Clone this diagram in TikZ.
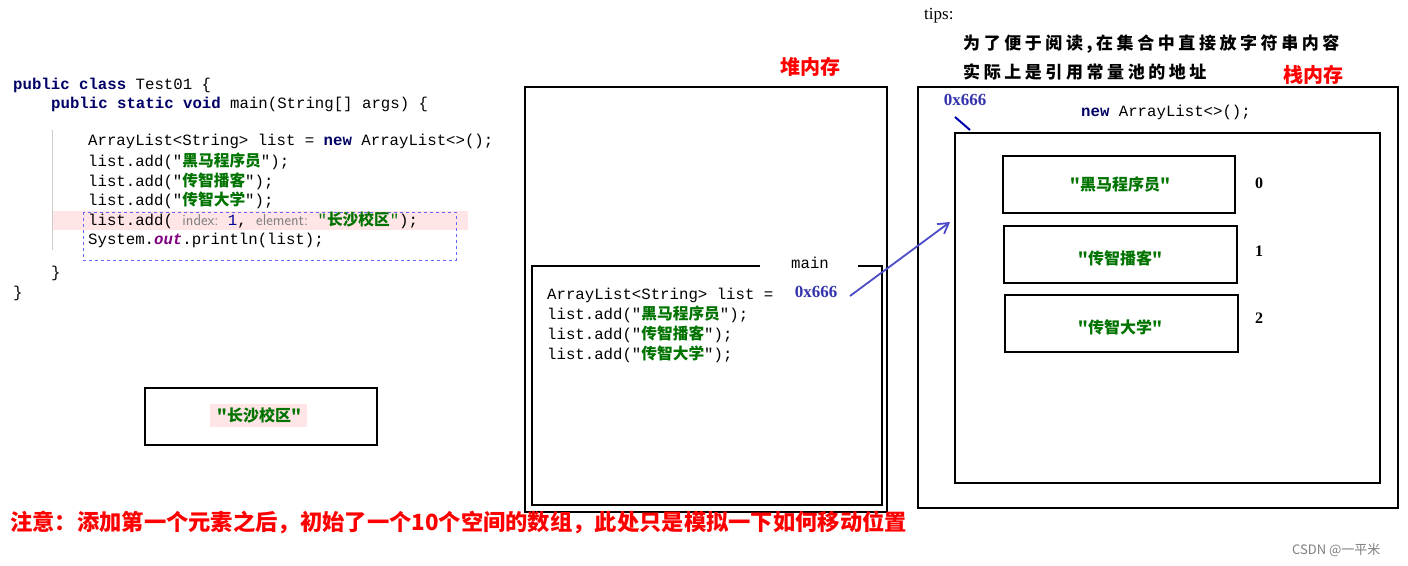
\documentclass[tikz,border=0pt]{standalone}
\usetikzlibrary{arrows.meta}
\usepackage{fontspec}
\setmainfont{Liberation Serif}
\setmonofont{Liberation Mono}
\newfontfamily\cjk{Noto Sans CJK SC}
\newfontfamily\cjksp{Noto Sans CJK SC}[LetterSpace=21]
\begin{document}
\begin{tikzpicture}[x=1pt,y=-1pt,
  every node/.style={inner sep=0pt,anchor=west},
  code/.style={font=\ttfamily\fontsize{15.7}{18}\selectfont},
  box/.style={draw=black,line width=2.2pt},
  elem/.style={anchor=center,font=\fontsize{16}{18}\selectfont},
  red lab/.style={text=red,font=\cjk\bfseries\fontsize{20}{22}\selectfont},
  addr/.style={text=blue!60!black!80!white,font=\bfseries\fontsize{17}{20}\selectfont}]
\useasboundingbox (0,0) rectangle (1408,565);
\fill[white] (0,0) rectangle (1408,565);
\newcommand{\kwd}[1]{\textcolor{blue!40!black}{\textbf{#1}}}
\newcommand{\grn}[1]{\textcolor{green!45!black}{\cjk\bfseries #1}}
% code
\fill[red!10] (52,211) rectangle (468,230);
\draw[gray!40,line width=1pt] (52,130) -- (52,250);
\draw[blue!60,dashed] (83,212) rectangle (456,260);
\node[code] (c1) at (13,85) {\kwd{public} \kwd{class} Test01 \{};
\node[code] (c2) at (51,104) {\kwd{public} \kwd{static} \kwd{void} main(String[] args) \{};
\node[code] (c3) at (88,141) {ArrayList<String> list = \kwd{new} ArrayList<>();};
\node[code] (c4) at (88,161) {list.add("\grn{黑马程序员}");};
\node[code] (c5) at (88,181) {list.add("\grn{传智播客}");};
\node[code] (c6) at (88,200) {list.add("\grn{传智大学}");};
\node[code] (c7) at (88,220) {list.add( \textcolor{gray}{\sffamily index:} \textcolor{blue!60!black}{1}, \textcolor{gray}{\sffamily element:} \textcolor{green!45!black}{"}\grn{长沙校区}\textcolor{green!45!black}{"});};
\node[code] (c8) at (88,240) {System.\textcolor{violet}{\textit{\textbf{out}}}.println(list);};
\node[code] (c9) at (51,273) {\}};
\node[code] (c10) at (13,293) {\}};
% box 长沙校区
\draw[box] (145,388) rectangle (377,445);
\fill[red!10] (210,404) rectangle (307,427);
\node[elem] (cs) at (259,415) {\grn{"长沙校区"}};
% heap
\node[red lab,anchor=center] (heap) at (810,67) {堆内存};
\draw[box] (525,87) rectangle (887,512);
\draw[box] (532,266) rectangle (882,505);
\fill[white] (760,255) rectangle (858,275);
\node[code,anchor=center] (mainl) at (810,263) {main};
\node[code] (h1) at (547,295) {ArrayList<String> list =};
\node[code] (h2) at (547,314) {list.add("\grn{黑马程序员}");};
\node[code] (h3) at (547,334) {list.add("\grn{传智播客}");};
\node[code] (h4) at (547,354) {list.add("\grn{传智大学}");};
\node[addr,anchor=center] (a1) at (816,292) {0x666};
% stack
\node[font=\fontsize{17}{20}\selectfont] (tips) at (924,16) {tips:};
\node[font=\cjksp\bfseries\fontsize{17}{20}\selectfont] (t1) at (963,44) {为了便于阅读,在集合中直接放字符串内容};
\node[font=\cjksp\bfseries\fontsize{17}{20}\selectfont] (t2) at (963,72) {实际上是引用常量池的地址};
\node[red lab,anchor=center] (stack) at (1313,75) {栈内存};
\draw[box] (918,87) rectangle (1398,508);
\node[addr,anchor=center] (a2) at (965,100) {0x666};
\node[code,anchor=center] (na) at (1166,112) {\kwd{new} ArrayList<>();};
\draw[box] (955,133) rectangle (1380,483);
\coordinate (p1) at (955,117); \coordinate (p2) at (970,130);
\draw[blue!70!black,line width=2pt] (p1) -- (p2);
\draw[box] (1003,156) rectangle (1235,213);
\draw[box] (1004,226) rectangle (1237,283);
\draw[box] (1005,295) rectangle (1238,352);
\node[elem] (e0) at (1120,184) {\grn{"黑马程序员"}};
\node[elem] (e1) at (1120,258) {\grn{"传智播客"}};
\node[elem] (e2) at (1120,327) {\grn{"传智大学"}};
\node[anchor=center,font=\bfseries\fontsize{16}{18}\selectfont] (i0) at (1259,183) {0};
\node[anchor=center,font=\bfseries\fontsize{16}{18}\selectfont] (i1) at (1259,251) {1};
\node[anchor=center,font=\bfseries\fontsize{16}{18}\selectfont] (i2) at (1259,318) {2};
\coordinate (q) at (950,222);
\coordinate (s) at (850,296);
\draw[blue!70!black!70!white,line width=1.8pt,-{Straight Barb[length=10pt,width=12pt]}] (s) -- (q);
% bottom
\node[text=red,font=\cjk\bfseries\fontsize{22.3}{24}\selectfont] (note) at (10,522) {注意：添加第一个元素之后，初始了一个10个空间的数组，此处只是模拟一下如何移动位置};
\node[text=gray,font=\cjk\fontsize{13}{14}\selectfont] (csdn) at (1292,550) {CSDN @一平米};
\end{tikzpicture}
\end{document}
